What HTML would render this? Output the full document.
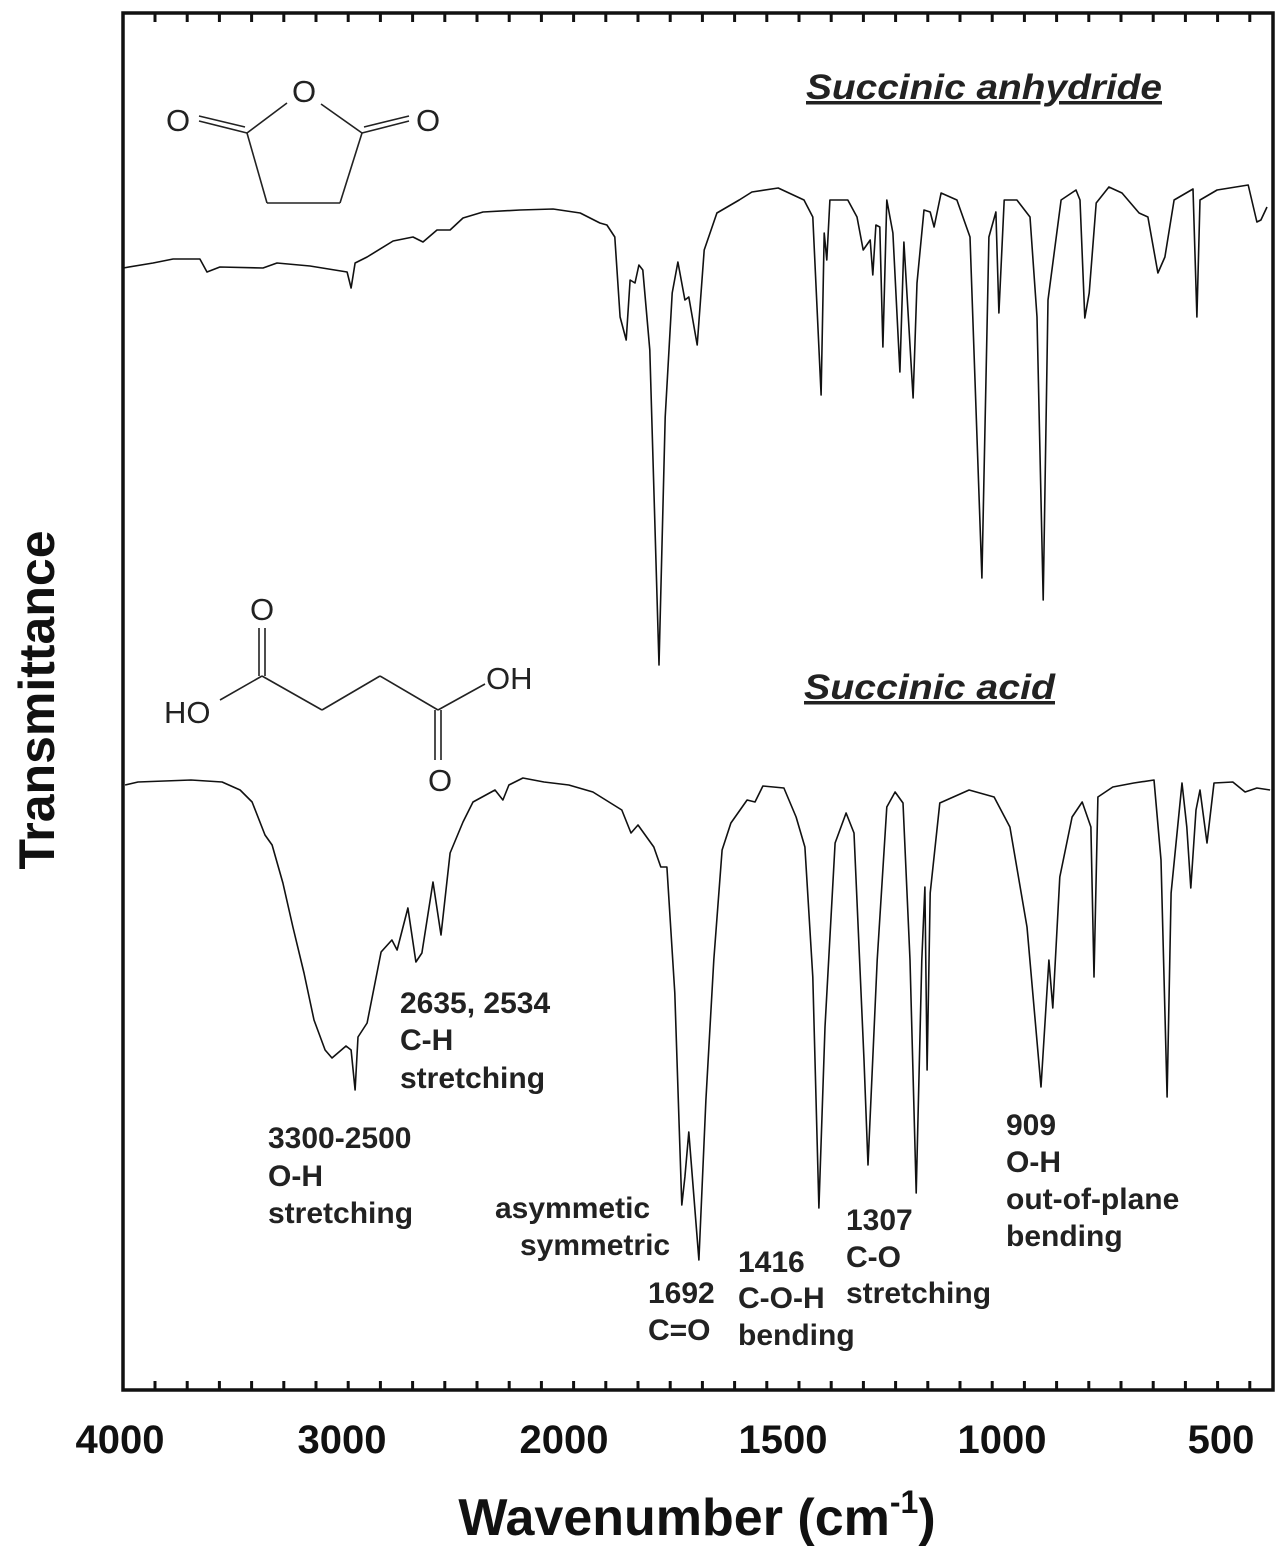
<!DOCTYPE html>
<html><head><meta charset="utf-8"><style>
html,body{margin:0;padding:0;background:#fff;}
svg{display:block;}
text{font-family:"Liberation Sans",Arial,sans-serif;}
</style></head><body>
<svg id="chart" width="1284" height="1550" viewBox="0 0 1284 1550">
<g id="frame-g"></g>
<g id="series-g"></g>
<g stroke="#222" stroke-width="1.6" fill="none">
 <line x1="287" y1="103" x2="247" y2="133"/><line x1="321" y1="104" x2="362" y2="133"/>
 <line x1="247" y1="133" x2="267" y2="203"/><line x1="362" y1="133" x2="340" y2="203"/>
 <line x1="267" y1="203" x2="340" y2="203"/>
 <line x1="247" y1="133" x2="199" y2="121"/><line x1="245" y1="127" x2="199" y2="116"/>
 <line x1="362" y1="133" x2="409" y2="121"/><line x1="364" y1="127" x2="409" y2="116"/>
</g>
<g font-size="31" fill="#222">
 <text x="304" y="102" text-anchor="middle">O</text>
 <text x="178" y="131" text-anchor="middle">O</text>
 <text x="428" y="131" text-anchor="middle">O</text>
</g>
<g stroke="#222" stroke-width="1.6" fill="none">
 <line x1="259" y1="628" x2="259" y2="676"/><line x1="265" y1="628" x2="265" y2="676"/>
 <line x1="262" y1="676" x2="220" y2="700"/>
 <line x1="262" y1="676" x2="322" y2="710"/><line x1="322" y1="710" x2="380" y2="676"/>
 <line x1="380" y1="676" x2="438" y2="710"/>
 <line x1="435" y1="710" x2="435" y2="760"/><line x1="441" y1="710" x2="441" y2="760"/>
 <line x1="438" y1="710" x2="485" y2="684"/>
</g>
<g font-size="31" fill="#222">
 <text x="262" y="620" text-anchor="middle">O</text>
 <text x="164" y="723">HO</text>
 <text x="486" y="689">OH</text>
 <text x="440" y="791" text-anchor="middle">O</text>
</g>
<g font-weight="bold" font-style="italic" font-size="35" fill="#222">
 <text x="806" y="99" textLength="356" lengthAdjust="spacingAndGlyphs" text-decoration="underline">Succinic anhydride</text>
 <text x="804" y="699" textLength="251" lengthAdjust="spacingAndGlyphs" text-decoration="underline">Succinic acid</text>
</g>
<g font-weight="bold" font-size="30" fill="#222">
 <text x="400" y="1013">2635, 2534</text><text x="400" y="1050">C-H</text><text x="400" y="1088">stretching</text>
 <text x="268" y="1148">3300-2500</text><text x="268" y="1186">O-H</text><text x="268" y="1223">stretching</text>
 <text x="495" y="1218">asymmetic</text><text x="520" y="1255">symmetric</text>
 <text x="648" y="1303">1692</text><text x="648" y="1340">C=O</text>
 <text x="738" y="1272">1416</text><text x="738" y="1308">C-O-H</text><text x="738" y="1345">bending</text>
 <text x="846" y="1230">1307</text><text x="846" y="1267">C-O</text><text x="846" y="1303">stretching</text>
 <text x="1006" y="1135">909</text><text x="1006" y="1172">O-H</text><text x="1006" y="1209">out-of-plane</text><text x="1006" y="1246">bending</text>
</g>
<text x="54" y="700" transform="rotate(-90 54 700)" text-anchor="middle" font-weight="bold" font-size="50" fill="#111">Transmittance</text>
<text x="697" y="1535" text-anchor="middle" font-weight="bold" font-size="52" fill="#111">Wavenumber (cm<tspan font-size="32" dy="-22">-1</tspan><tspan dy="22">)</tspan></text>
<g id="ticklabels-g" font-weight="bold" font-size="40" fill="#111" text-anchor="middle"></g>
</svg>
<script>
const xTickValues = [4000, 3000, 2000, 1500, 1000, 500];
const anhydrideWn = [3986,3851,3761,3640,3608,3550,3356,3293,3144,2977,2959,2941,2887,2770,2680,2635,2572,2513,2455,2365,2198,2049,1963,1918,1902,1884,1872,1858,1849,1838,1829,1820,1804,1783,1769,1753,1740,1724,1715,1696,1680,1651,1600,1571,1511,1452,1432,1413,1406,1400,1393,1352,1331,1317,1301,1295,1288,1279,1272,1263,1249,1233,1224,1203,1194,1178,1164,1155,1139,1103,1073,1046,1030,1014,1007,995,966,936,920,906,895,865,831,822,811,801,785,756,726,687,667,644,628,607,564,555,548,509,438,418,409,395];
const anhydrideT = [112.2,112.7,113.1,113.1,111.8,112.3,112.2,112.7,112.4,111.8,110.2,112.7,113.3,114.9,115.3,114.8,116.0,116.0,117.2,117.8,118.0,118.1,117.7,116.7,116.5,115.3,107.3,105.0,111.0,110.7,112.5,112.0,104.0,72.5,97.3,109.7,112.8,109.0,109.3,104.5,114.0,117.7,119.0,119.8,120.2,119.0,117.3,99.5,115.7,113.0,119.0,119.0,117.3,114.0,115.0,111.5,116.5,116.3,104.3,119.0,115.7,101.8,114.8,99.2,110.7,118.0,117.8,116.3,119.7,119.0,115.3,81.2,115.3,117.8,107.7,119.0,119.0,117.3,107.3,79.0,109.0,119.0,120.0,119.0,107.2,109.7,118.7,120.3,119.7,117.7,117.3,111.7,113.3,119.0,120.1,107.3,119.0,120.0,120.5,116.8,117.0,118.3];
const acidWn = [3977,3919,3680,3540,3459,3405,3347,3315,3266,3221,3171,3126,3076,3045,2982,2959,2941,2928,2887,2824,2775,2752,2703,2667,2640,2590,2554,2513,2455,2410,2311,2275,2248,2185,2090,1989,1934,1868,1847,1831,1795,1779,1765,1747,1737,1731,1724,1715,1710,1692,1676,1658,1639,1619,1582,1564,1546,1498,1470,1450,1432,1418,1404,1381,1356,1338,1315,1306,1285,1263,1244,1226,1210,1196,1183,1176,1171,1164,1142,1075,1018,982,943,911,893,884,868,840,817,797,790,781,747,699,653,637,623,614,589,578,569,557,548,532,516,473,445,418,388];
const acidT = [60.5,60.8,61.0,60.8,60.0,58.8,55.5,54.5,50.7,46.3,41.7,37.0,34.0,33.2,34.4,34.0,30.0,35.3,36.7,43.8,45.0,44.0,48.2,42.8,43.7,50.8,45.5,53.7,56.8,58.8,60.0,59.0,60.5,61.2,60.8,60.5,59.8,58.0,55.7,56.5,54.3,52.3,52.3,39.7,26.3,18.5,21.3,25.8,23.0,13.0,29.0,43.0,54.0,56.7,59.0,58.8,60.4,60.2,57.3,54.3,41.3,18.2,36.3,54.7,57.7,55.7,33.0,22.5,43.0,58.3,59.8,58.7,43.0,19.7,43.0,50.3,32.0,49.7,58.7,60.0,59.3,56.3,46.3,30.3,43.0,38.2,51.3,57.3,58.8,56.3,41.3,59.3,60.3,60.7,61.0,53.0,29.3,49.7,60.7,56.3,50.2,58.0,60.0,54.7,60.7,60.8,59.8,60.2,60.0];

const L = 123, R = 1273, T0 = 13, B = 1390;
function xScale(w) {
  if (w >= 2000) return 120 + (4000 - w) * 0.222;
  return 564 + (2000 - w) * 0.438;
}
function yScale(t) { return 1390 - t * 10; }

const NS = 'http://www.w3.org/2000/svg';
const frameG = document.getElementById('frame-g');
const frame = document.createElementNS(NS, 'rect');
frame.setAttribute('x', L); frame.setAttribute('y', T0);
frame.setAttribute('width', R - L); frame.setAttribute('height', B - T0);
frame.setAttribute('fill', 'none'); frame.setAttribute('stroke', '#111'); frame.setAttribute('stroke-width', '3.5');


frameG.appendChild(frame);
for (let k = 0; 155 + 32.2 * k < R - 5; k++) {
  const x = 155 + 32.2 * k;
  [[T0, T0 + 9], [B - 9, B]].forEach(([a, b]) => {
    const t = document.createElementNS(NS, 'line');
    t.setAttribute('x1', x); t.setAttribute('x2', x); t.setAttribute('y1', a); t.setAttribute('y2', b);
    t.setAttribute('stroke', '#111'); t.setAttribute('stroke-width', '3');
    
    
    frameG.appendChild(t);
  });
}
const tl = document.getElementById('ticklabels-g');
xTickValues.forEach(v => {
  const t = document.createElementNS(NS, 'text');
  t.setAttribute('x', xScale(v)); t.setAttribute('y', 1453);
  t.textContent = v;
  
  
  tl.appendChild(t);
});
function drawSeries(wn, tv, name) {
  const p = document.createElementNS(NS, 'path');
  let d = '';
  wn.forEach((w, i) => { d += (i ? 'L' : 'M') + xScale(w).toFixed(1) + ' ' + yScale(tv[i]).toFixed(1); });
  p.setAttribute('d', d);
  p.setAttribute('fill', 'none'); p.setAttribute('stroke', '#111'); p.setAttribute('stroke-width', '1.6');
  p.setAttribute('stroke-linejoin', 'round');
  
  
  document.getElementById('series-g').appendChild(p);
}
drawSeries(anhydrideWn, anhydrideT, 'anhydride-spectrum');
drawSeries(acidWn, acidT, 'acid-spectrum');
</script>
</body></html>
